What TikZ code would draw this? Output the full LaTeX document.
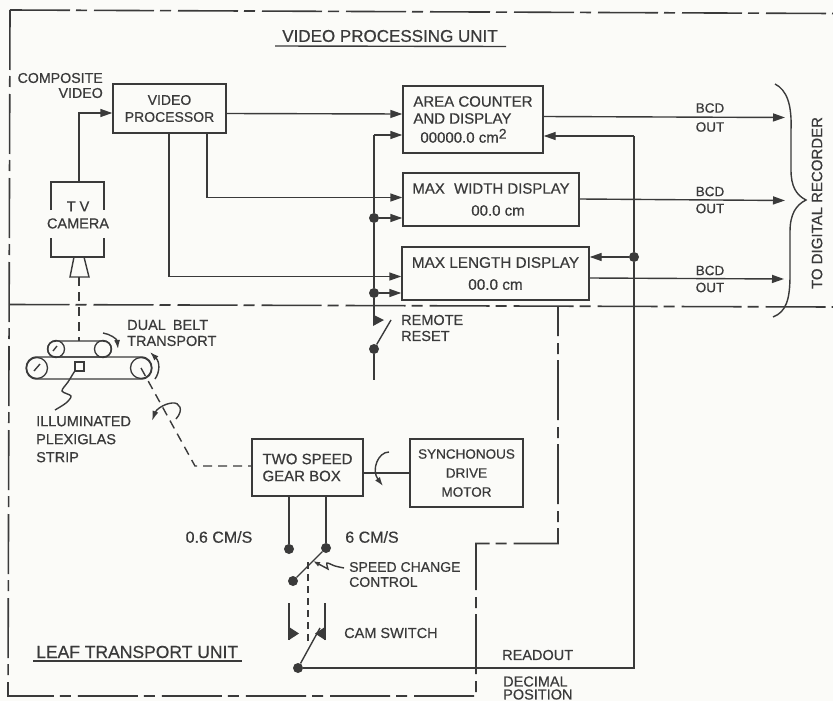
\documentclass[tikz,border=0pt]{standalone}
\usepackage{fontspec}
\setmainfont{Liberation Sans}[RawFeature={embolden=0.5}]
\usetikzlibrary{arrows.meta}
\definecolor{ink}{HTML}{3A3A3A}
\definecolor{paper}{HTML}{FBFBF8}
\newcommand{\fs}[1]{\fontsize{#1}{17}\selectfont}
\tikzset{
  lbl/.style={inner sep=0pt,text=ink,font=\fs{14.5}},
  box/.style={draw=ink,line width=1.4pt,inner sep=0pt,text=ink,align=left,font=\fs{14.5}},
  wire/.style={draw=ink,line width=1.4pt},
  arr/.style={wire,-{Triangle[length=12pt,width=8pt]}},
  shaft/.style={wire,dash pattern=on 9pt off 6pt},
  frameline/.style={draw=ink,line width=1.6pt,dash pattern=on 60pt off 6pt on 11pt off 7pt},
  dotn/.style={circle,fill=ink,draw=none,inner sep=0pt,minimum size=10pt},
  tri/.style={fill=ink,draw=none},
  rot/.style={wire,-{Latex[length=9pt,width=6pt]}},
  pulley/.style={circle,draw=ink,line width=1.3pt,inner sep=0pt},
}
\begin{document}
\begin{tikzpicture}[x=1pt,y=-1pt]
\useasboundingbox (0,0) rectangle (833,701);
\fill[paper] (0,0) rectangle (833,701);
% frames
\coordinate (tl) at (10,10); \coordinate (tr) at (833,13.5);
\coordinate (ml) at (9.5,304.5); \coordinate (mr) at (833,307);
\coordinate (bl) at (8,696); \coordinate (br) at (476,696);
\coordinate (s1) at (476,543.5); \coordinate (s2) at (558,543.5); \coordinate (s3) at (558,306);
\draw[frameline] (tl) -- (tr);
\draw[frameline] (ml) -- (mr);
\draw[frameline] (tl) -- (bl) -- (br) -- (s1) -- (s2) -- (s3);
% titles
\node[lbl,font=\fs{17}] (t1) at (390,36) {VIDEO PROCESSING UNIT};
\draw[wire] (275,46) -- (506,46.5);
\node[lbl,anchor=west,font=\fs{17.5}] (t2) at (36,652) {LEAF TRANSPORT UNIT};
\draw[wire] (33,661) -- (242,661);
% boxes
\node[box,minimum width=113pt,minimum height=49pt,align=center,font=\fs{14}] (vp) at (169.5,108.5) {VIDEO\\PROCESSOR};
\node[box,minimum width=140pt,minimum height=67pt,font=\fs{15}] (area) at (473,119.5) {AREA COUNTER\\AND DISPLAY\\[2pt]\hspace*{7pt}00000.0 cm\raisebox{4pt}{\fs{14}2}};
\node[box,minimum width=176pt,minimum height=53pt,align=center,font=\fs{15}] (width) at (491,199.5) {MAX\hspace{5pt} WIDTH DISPLAY\\[5pt]\hspace*{14pt}00.0 cm};
\node[box,minimum width=187pt,minimum height=53pt,align=center,font=\fs{15.3}] (length) at (495.5,273.5) {MAX LENGTH DISPLAY\\[5pt]00.0 cm};
\node[box,minimum width=111pt,minimum height=57pt,font=\fs{15}] (gear) at (307.5,467.5) {TWO SPEED\\GEAR BOX};
\node[box,minimum width=113pt,minimum height=68pt,align=center,font=\fs{13.5}] (motor) at (466.5,473) {SYNCHONOUS\\[2pt]DRIVE\\[2pt]MOTOR};
% camera
\coordinate (cam) at (79,182);
\draw[wire] (51,210) -- (51,182) -- (cam) -- (104,182) -- (104,210);
\draw[wire] (51,238) -- (51,257) -- (104,257) -- (104,238);
\node[lbl,align=center] (camt) at (78,215) {T V\\CAMERA};
\draw[wire] (74,257) -- (70,277) -- (89,277) -- (84,257);
\coordinate (lens) at (79,277);
\coordinate (bt) at (79,341);
\draw[shaft] (lens) -- (bt);
\draw[arr] (cam) |- (vp.west |- 0,113);
\node[lbl,align=right,anchor=east,font=\fs{14.2}] (comp) at (103,85.5) {COMPOSITE\\[-2pt]VIDEO};
% video signals
\draw[arr] (vp.east |- 0,113.5) -- (area.west |- 0,114);
\draw[arr] (207,133) |- (width.west |- 0,197.5);
\draw[arr] (169,133) |- (length.west |- 0,276.5);
% reset bus
\node[dotn] (d1) at (374,218) {};
\node[dotn] (d2) at (374,293) {};
\node[dotn] (d3) at (374,349) {};
\coordinate (resetend) at (374,380);
\draw[wire] (d3) -- (resetend);
\draw[arr] (374,135) -- (area.west |- 0,135);
\draw[wire] (374,135) -- (d1) -- (d2) -- (374,320);
\draw[arr] (d1) -- (width.west |- d1);
\draw[arr] (d2) -- (length.west |- d2);
\fill[tri] (373,314.5) -- (384,320) -- (373,326) -- cycle;
\coordinate (sw0) at (391,320);
\draw[wire] (d3) -- (sw0);
\node[lbl,align=left,anchor=west] (rem) at (401,328) {REMOTE\\[-1pt]RESET};
% outputs
\coordinate (o1) at (785,117.5); \coordinate (o2) at (785,200.5); \coordinate (o3) at (784,279);
\draw[arr] (area.east |- 0,116.5) -- (o1);
\draw[arr] (width.east |- 0,199) -- (o2);
\draw[arr] (length.east |- 0,278) -- (o3);
\node[lbl,align=center,font=\fs{13.5}] (b1) at (710,117.5) {BCD\\[2pt]OUT};
\node[lbl,align=center,font=\fs{13.5}] (b2) at (710,200) {BCD\\OUT};
\node[lbl,align=center,font=\fs{13.5}] (b3) at (710,279) {BCD\\OUT};
\draw[wire] (775,84) .. controls (787,90) and (792,105) .. (791,130) -- (791,170)
  .. controls (791,186) and (796,195) .. (806,200)
  .. controls (796,205) and (790,214) .. (790,232) -- (790,275)
  .. controls (790,300) and (786,312) .. (773,317);
\node[lbl,rotate=90,font=\fs{15}] (dr) at (817,203) {TO DIGITAL RECORDER};
% readout
\node[dotn] (d4) at (634,257) {};
\node[dotn] (d5) at (298,668) {};
\coordinate (ro) at (634,668);
\draw[arr] (d4) -- (length.east |- d4);
\draw[arr] (634,136) -- (area.east |- 0,136);
\draw[wire] (634,136) -- (d4) -- (ro) -- (d5);
\node[lbl,anchor=west] (rd) at (502,655) {READOUT};
\node[lbl,align=left,anchor=west] (dp) at (503,688) {DECIMAL\\[-4pt]POSITION};
% belts
\draw[wire] (56,341) -- (103,341) .. controls (114,341) and (114,357) .. (103,357) -- (56,357) .. controls (45,357) and (45,341) .. (56,341) -- cycle;
\node[pulley,minimum size=17pt] (p1) at (56,349) {};
\node[pulley,minimum size=17pt] (p2) at (103,349) {};
\draw[wire] (37,357) -- (141,357) .. controls (155.5,357) and (155.5,379) .. (141,379) -- (37,379) .. controls (22.5,379) and (22.5,357) .. (37,357) -- cycle;
\node[pulley,minimum size=21pt] (p3) at (37,368) {};
\node[pulley,minimum size=21pt] (p4) at (141,368) {};
\draw[wire] (53,351) -- (57,346);
\draw[wire] (34,371) -- (40,364);
\node[draw=ink,line width=1.3pt,minimum size=9pt,inner sep=0pt] (strip) at (79.5,366.5) {};
\draw[wire] plot[smooth] coordinates {(strip.south west) (68,382) (62,391) (71,396) (66,403) (55,410)};
\node[lbl,align=left,anchor=north west] (ill) at (36,416) {ILLUMINATED\\[1pt]PLEXIGLAS\\[1pt]STRIP};
\node[lbl,align=left,anchor=west] (db) at (127,333) {DUAL\hspace{3pt} BELT\\[-1pt]TRANSPORT};
\draw[rot] (103,333) .. controls (110,334) and (117,339) .. (118,349);
\draw[rot] (155,379) .. controls (160,372) and (160,362) .. (150,352);
% shaft to gear box
\coordinate (bend) at (195,466);
\draw[shaft] (p4.center) -- (bend) -- (gear.west |- bend);
\draw[rot,-{Latex[length=10pt,width=6pt]}] (176,419) .. controls (184,410) and (180,402) .. (172,403) .. controls (163,404) and (156,410) .. (152,421);
% motor link
\draw[wire] (gear.east |- motor.west) -- (motor.west);
\draw[rot] (389,452) .. controls (378,452) and (371,470) .. (383,486);
% speed switch
\node[dotn] (a1) at (289,549) {};
\node[dotn] (a2) at (326,548) {};
\node[dotn] (a3) at (293,581) {};
\draw[wire] (gear.south -| a1) -- (a1);
\draw[wire] (gear.south -| a2) -- (a2);
\draw[wire] (a3) -- (a2);
\node[lbl,font=\fs{16}] (sp1) at (219,537) {0.6 CM/S};
\node[lbl,font=\fs{16}] (sp2) at (372,537) {6 CM/S};
\coordinate (armtop) at (308,562);
\coordinate (armlow) at (308,645);
\draw[shaft,dash pattern=on 7pt off 5pt] (armtop) -- (armlow);
\node[lbl,align=left,anchor=west,font=\fs{14}] (scc) at (349,574.5) {SPEED CHANGE\\[-2pt]CONTROL};
\draw[wire,-{Latex[length=7pt,width=5pt]}] plot[smooth] coordinates {(344,568) (335,566) (327,563) (328,569)} -- (313,561);
% cam switch
\coordinate (c1) at (289,603); \coordinate (c2) at (325,603);
\coordinate (c3) at (289,640); \coordinate (c4) at (325,640);
\draw[wire] (c1) -- (c3);
\draw[wire] (c2) -- (c4);
\fill[tri] (289,627) -- (299,633.5) -- (289,640) -- cycle;
\fill[tri] (325,627) -- (315,633.5) -- (325,640) -- cycle;
\coordinate (camarm) at (320,628);
\draw[wire] (d5) -- (camarm);
\node[lbl,anchor=west] (cs) at (344,633) {CAM SWITCH};
\end{tikzpicture}
\end{document}
